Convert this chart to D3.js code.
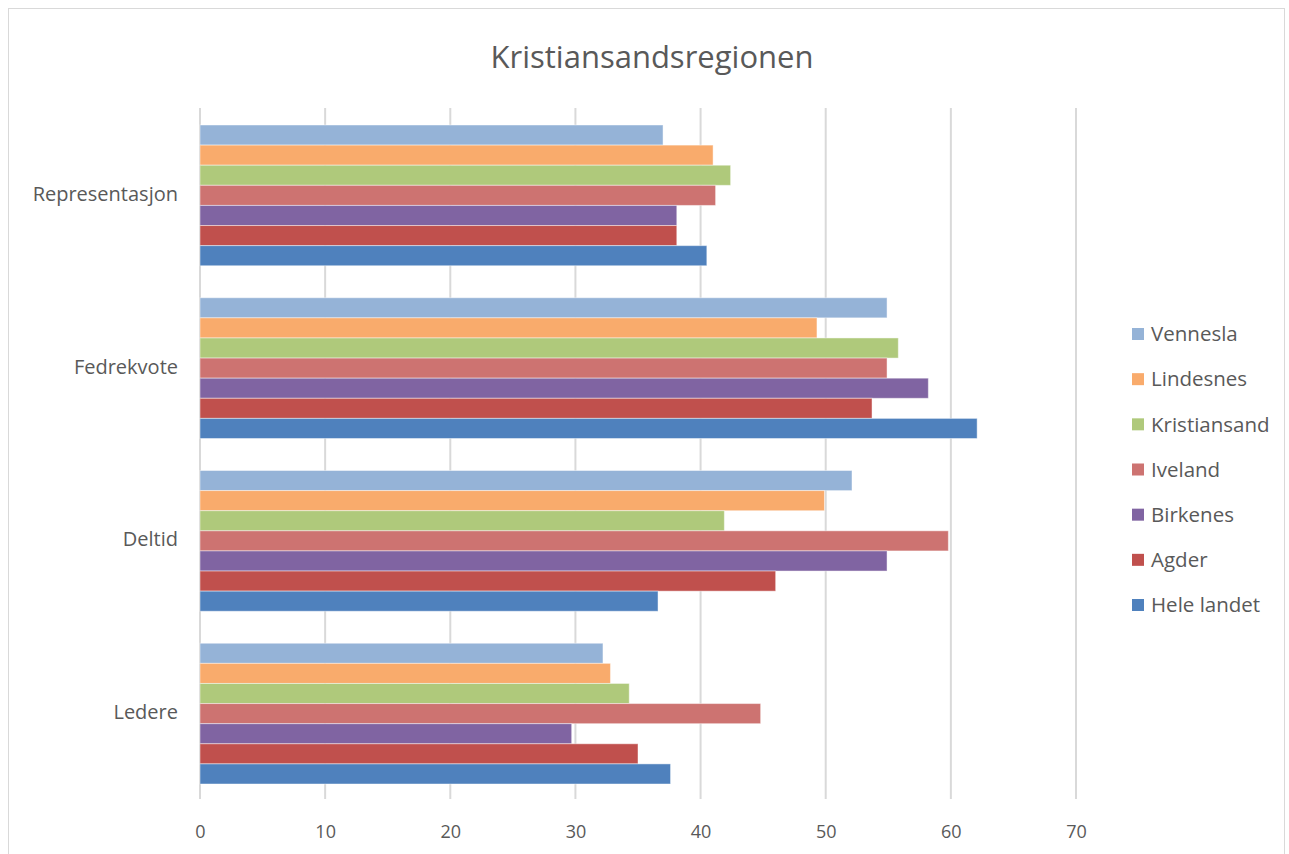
<!DOCTYPE html>
<html><head><meta charset="utf-8">
<script src="https://cdn.jsdelivr.net/npm/d3@7"></script>
<style>html,body{margin:0;padding:0;background:#fff;}svg{display:block;font-family:"Open Sans","Liberation Sans",sans-serif;}</style>
</head><body>
<svg id="c" width="1289" height="854"></svg>
<script>
const title = "Kristiansandsregionen";
const categories = ["Representasjon", "Fedrekvote", "Deltid", "Ledere"];
const seriesNames = ["Vennesla", "Lindesnes", "Kristiansand", "Iveland", "Birkenes", "Agder", "Hele landet"];
const seriesColors = ["#95B3D7", "#F9AB6C", "#AFC97B", "#CD7371", "#8064A2", "#C0504D", "#4F81BD"];
const vennesla    = [37.0, 54.9, 52.1, 32.2];
const lindesnes   = [41.0, 49.3, 49.9, 32.8];
const kristiansand= [42.4, 55.8, 41.9, 34.3];
const iveland     = [41.2, 54.9, 59.8, 44.8];
const birkenes    = [38.1, 58.2, 54.9, 29.7];
const agder       = [38.1, 53.7, 46.0, 35.0];
const heleLandet  = [40.5, 62.1, 36.6, 37.6];
const seriesValues = [vennesla, lindesnes, kristiansand, iveland, birkenes, agder, heleLandet];
const xTicks = [0, 10, 20, 30, 40, 50, 60, 70];

(function () {
const svg = d3.select("#c");
svg.append("rect").attr("x", 8.5).attr("y", 8.5).attr("width", 1276).attr("height", 860)
  .attr("fill", "none").attr("stroke", "#d9d9d9").attr("stroke-width", 1);

const pLeft = 200, pRight = 1076, pTop = 108, pBottom = 799;
const x = d3.scaleLinear().domain([0, 70]).range([pLeft, pRight]);
const y = d3.scaleBand().domain(categories).range([pTop, pBottom]).paddingInner(0).paddingOuter(0);
const inner = d3.scaleBand().domain(seriesNames).range([17, y.bandwidth() - 15]).padding(0);

svg.append("g").selectAll("line").data(xTicks).join("line")
  .attr("x1", d => x(d)).attr("x2", d => x(d))
  .attr("y1", pTop).attr("y2", pBottom)
  .attr("stroke", "#d9d9d9").attr("stroke-width", 2);

const g = svg.append("g");
seriesNames.forEach((s, si) => {
  g.append("g").selectAll("rect").data(seriesValues[si]).join("rect")
    .attr("x", x(0))
    .attr("y", (d, i) => y(categories[i]) + inner(s))
    .attr("width", d => x(d) - x(0))
    .attr("height", inner.bandwidth())
    .attr("fill", seriesColors[si])
    .attr("stroke", "rgba(255,255,255,0.45)").attr("stroke-width", 1);
});

const xAxis = d3.axisBottom(x).tickValues(xTicks).tickSize(0).tickPadding(0);
const xg = svg.append("g").attr("transform", `translate(0,${pBottom + 26})`).call(xAxis);
xg.select(".domain").remove();
xg.selectAll("text").attr("font-size", 18).attr("fill", "#595959")
  .attr("font-family", "'Open Sans','Liberation Sans',sans-serif");

const yAxis = d3.axisLeft(y).tickSize(0).tickPadding(0);
const yg = svg.append("g").attr("transform", `translate(178,0)`).call(yAxis);
yg.select(".domain").remove();
yg.selectAll("text").attr("font-size", 20).attr("fill", "#595959")
  .attr("font-family", "'Open Sans','Liberation Sans',sans-serif");

svg.append("text").attr("x", 652).attr("y", 68).attr("text-anchor", "middle")
  .attr("font-size", 31).attr("fill", "#595959").text(title);

const ly = d3.scalePoint().domain(seriesNames).range([334, 605]);
const lg = svg.append("g");
seriesNames.forEach((s, si) => {
  lg.append("rect").attr("x", 1132).attr("y", ly(s) - 6).attr("width", 12).attr("height", 12)
    .attr("fill", seriesColors[si]);
  lg.append("text").attr("x", 1151).attr("y", ly(s)).attr("dy", "0.35em")
    .attr("font-size", 20.5).attr("fill", "#595959").text(s);
});
})();
</script>
</body></html>
